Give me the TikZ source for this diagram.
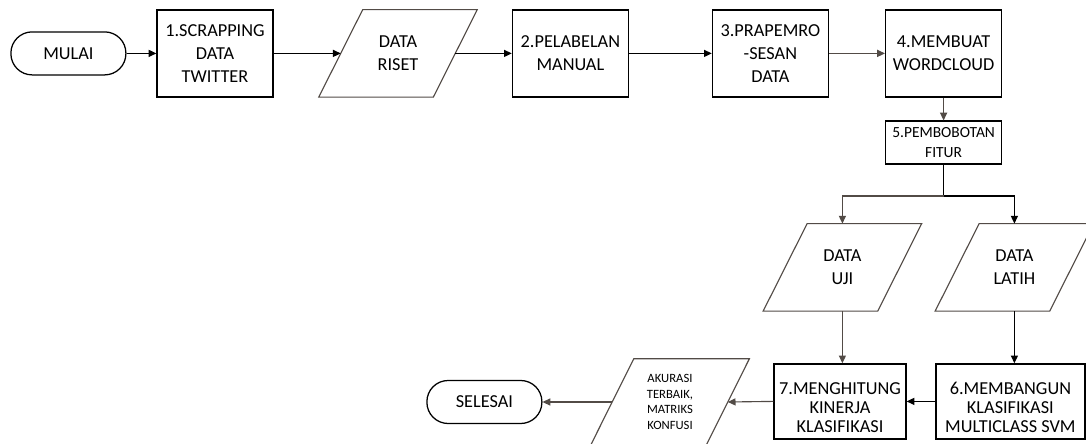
\documentclass[tikz,border=0pt]{standalone}
\usepackage{fontspec}
\setmainfont{Carlito}
\usetikzlibrary{arrows.meta}
\definecolor{flowgray}{RGB}{82,75,70}
\tikzset{
	proc/.style={draw, line width=0.9pt, minimum width=2.9cm, minimum height=2.175cm, align=center, inner sep=0pt, font=\fontsize{13}{16.4}\selectfont},
	term/.style={draw, line width=0.9pt, rounded corners=0.53cm, minimum width=2.875cm, minimum height=1.075cm, inner sep=0pt, font=\fontsize{13}{16.4}\selectfont},
	io/.style={minimum width=2.85cm, minimum height=2.175cm, align=center, inner sep=0pt, font=\fontsize{13}{16.4}\selectfont},
	arr/.style={line width=0.8pt, -{Triangle[length=5.5pt,width=5pt]}},
	garr/.style={arr, flowgray},
}
\newcommand{\ioshape}[2][0.55cm]{\draw[flowgray, line width=0.8pt] ([xshift=#1]#2.north west) -- ([xshift=#1]#2.north east) -- ([xshift=-#1]#2.south east) -- ([xshift=-#1]#2.south west) -- cycle;}
\newcommand{\lowtext}{\rule{0pt}{17.5pt}}
\begin{document}
\begin{tikzpicture}
			\useasboundingbox (0,0) rectangle (27.15,11.075);
			
			% top row
			\node[term] (mulai) at (1.71,9.74) {MULAI};
			\node[proc] (scrap) at (5.375,9.74) {1.SCRAPPING\\DATA\\TWITTER};
			\node[io] (riset) at (9.95,9.74) {DATA\\RISET};
			\ioshape{riset}
			\node[proc] (label) at (14.26,9.74) {2.PELABELAN\\MANUAL};
			\node[proc] (prepro) at (19.26,9.74) {3.PRAPEMRO\\-SESAN\\DATA};
			\node[proc] (wcloud) at (23.59,9.74) {4.MEMBUAT\\WORDCLOUD};
			
			\draw[arr] (mulai.east) -- (scrap.west);
			\draw[arr] (scrap.east) -- (riset.west);
			\draw[arr] (riset.east) -- (label.west);
			\draw[arr] (label.east) -- (prepro.west);
			\draw[garr] (prepro.east) -- (wcloud.west);
			
			% pembobotan dan pembagian data
			\node[proc, minimum height=1.075cm, font=\fontsize{11}{14}\selectfont] (bobot) at (23.59,7.51) {5.PEMBOBOTAN\\FITUR};
			\draw[garr] (wcloud.south) -- (bobot.north);
			
			\node[io] (uji) at (21.06,4.39) {DATA\\UJI};
			\ioshape{uji}
			\node[io] (latih) at (25.36,4.39) {DATA\\LATIH};
			\ioshape{latih}
			
			\coordinate (split) at (23.59,6.175);
			\draw[line width=0.8pt] (bobot.south) -- (split);
			\draw[arr] (split) -| (latih.north);
			\draw[garr] (split) -| (uji.north);
			
			% bottom row
			\node[proc, minimum width=3.725cm, minimum height=1.875cm, font=\fontsize{13}{13.3}\selectfont] (svm) at (25.26,1.04) {\lowtext 6.MEMBANGUN\\KLASIFIKASI\\MULTICLASS SVM};
			\node[proc, minimum width=3.3cm, minimum height=1.875cm, font=\fontsize{13}{13.3}\selectfont] (kinerja) at (21.0,1.04) {\lowtext 7.MENGHITUNG\\KINERJA\\KLASIFIKASI};
			\node[io, minimum width=2.875cm, minimum height=2.15cm, font=\fontsize{9}{11}\selectfont] (akurasi) at (16.75,1.025) {AKURASI\\TERBAIK,\\MATRIKS\\KONFUSI};
			\ioshape[0.54cm]{akurasi}
			\node[term] (selesai) at (12.11,1.025) {SELESAI};
			
			\draw[arr] (latih.south) -- (latih.south |- svm.north);
			\draw[garr] (uji.south) -- (uji.south |- kinerja.north);
			\draw[arr] (svm.west) -- (kinerja.east);
			\draw[garr] (kinerja.west) -- (akurasi.east);
			\draw[garr] (akurasi.west) -- (selesai.east);
\end{tikzpicture}
\end{document}
